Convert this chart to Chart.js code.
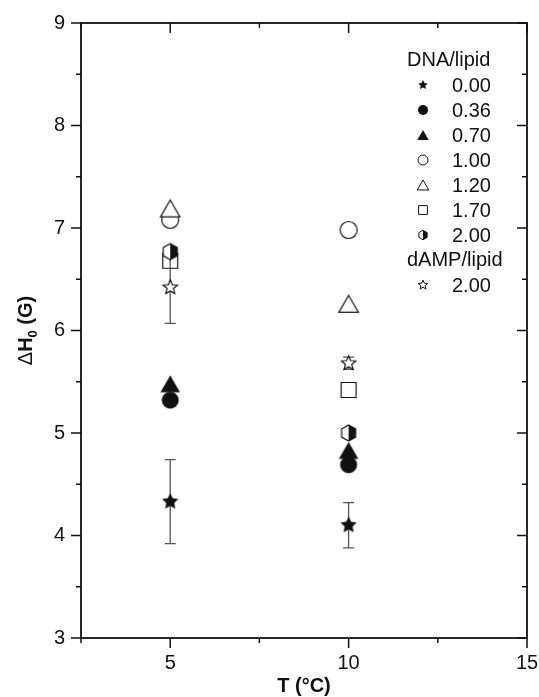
<!DOCTYPE html>
<html>
<head>
<meta charset="utf-8">
<script src="https://cdn.jsdelivr.net/npm/chart.js@4.4.1/dist/chart.umd.min.js"></script>
<style>
  html, body { margin: 0; padding: 0; background: #fff; }
  #wrap { width: 539px; height: 697px; position: relative; }
</style>
</head>
<body>
<div id="wrap"><canvas id="chart"></canvas></div>
<script>
// ── Data ─────────────────────────────────────────────────────────
const temps = [5, 10];
const ratioLabels = ['0.00', '0.36', '0.70', '1.00', '1.20', '1.70', '2.00', '2.00'];
const groupLabels = ['DNA/lipid', 'dAMP/lipid'];

const dH_000 = [4.33, 4.10];
const dH_036 = [5.32, 4.69];
const dH_070 = [5.48, 4.83];
const dH_100 = [7.08, 6.98];
const dH_120 = [7.19, 6.26];
const dH_170 = [6.68, 5.42];
const dH_200 = [6.77, 5.00];
const dH_dAMP200 = [6.42, 5.68];

const err_000 = [0.41, 0.22];
const err_dAMP200 = [0.35, 0.06];

const xTicks = [5, 10, 15];
const yTicks = [3, 4, 5, 6, 7, 8, 9];

// ── Styles ───────────────────────────────────────────────────────
const FONT = '"Liberation Sans", Arial, Helvetica, sans-serif';
const INK = '#111';
const series = [
  { vals: dH_000, kind: 'starFilled', size: 17, err: err_000, order: 8 },
  { vals: dH_036, kind: 'circleFilled', size: 17, order: 7 },
  { vals: dH_070, kind: 'triangleFilled', size: 17, order: 6 },
  { vals: dH_100, kind: 'circleOpen', size: 17, order: 5 },
  { vals: dH_120, kind: 'triangleOpen', size: 17, order: 2 },
  { vals: dH_170, kind: 'squareOpen', size: 17, order: 3 },
  { vals: dH_200, kind: 'hexHalf', size: 17, order: 1 },
  { vals: dH_dAMP200, kind: 'starOpen', size: 15, err: err_dAMP200, order: 4 },
];

function drawMarker(ctx, kind, cx, cy, s, lw) {
  ctx.save();
  ctx.lineWidth = lw;
  ctx.strokeStyle = INK;
  ctx.fillStyle = INK;
  ctx.lineJoin = 'miter';
  const filled = kind.endsWith('Filled');
  ctx.beginPath();
  if (kind.startsWith('circle')) {
    ctx.arc(cx, cy, s / 2, 0, Math.PI * 2);
  } else if (kind.startsWith('triangle')) {
    const w = s * 1.15, h = w * 0.866;
    ctx.moveTo(cx, cy - h / 2);
    ctx.lineTo(cx + w / 2, cy + h / 2);
    ctx.lineTo(cx - w / 2, cy + h / 2);
    ctx.closePath();
  } else if (kind.startsWith('square')) {
    const a = s * 0.88;
    ctx.rect(cx - a / 2, cy - a / 2, a, a);
    ctx.stroke();
    ctx.restore();
    return;
  } else if (kind.startsWith('star')) {
    const inner = filled ? 0.5 : 0.45;
    for (let k = 0; k < 10; k++) {
      const r = k % 2 ? s / 2 * inner : s / 2;
      const ang = -Math.PI / 2 + k * Math.PI / 5;
      const px = cx + r * Math.cos(ang), py = cy + r * Math.sin(ang);
      k ? ctx.lineTo(px, py) : ctx.moveTo(px, py);
    }
    ctx.closePath();
  } else if (kind === 'hexHalf') {
    const r = s / 2 * 0.95;
    for (let k = 0; k < 6; k++) {
      const ang = -Math.PI / 2 + k * Math.PI / 3;
      const px = cx + r * Math.cos(ang), py = cy + r * Math.sin(ang);
      k ? ctx.lineTo(px, py) : ctx.moveTo(px, py);
    }
    ctx.closePath();
    ctx.fillStyle = '#fff';
    ctx.fill();
    ctx.stroke();
    ctx.beginPath();
    for (let k = 0; k < 4; k++) {
      const ang = -Math.PI / 2 + k * Math.PI / 3;
      const px = cx + r * Math.cos(ang), py = cy + r * Math.sin(ang);
      k ? ctx.lineTo(px, py) : ctx.moveTo(px, py);
    }
    ctx.closePath();
    ctx.fillStyle = INK;
    ctx.fill();
    ctx.restore();
    return;
  }
  if (filled) {
    ctx.fill();
  } else {
    ctx.fillStyle = '#fff';
    ctx.fill();
    ctx.stroke();
  }
  ctx.restore();
}

function makeMarker(kind, s) {
  const c = document.createElement('canvas');
  const size = Math.ceil(s * 1.4) + 4;
  c.width = size; c.height = size;
  drawMarker(c.getContext('2d'), kind, size / 2, size / 2, s, 1.2);
  return c;
}

// ── Plugins ──────────────────────────────────────────────────────
const errorBars = {
  id: 'errorBars',
  beforeDatasetsDraw(chart) {
    const { ctx, scales: { x, y } } = chart;
    ctx.save();
    ctx.strokeStyle = '#555';
    ctx.lineWidth = 1.3;
    series.forEach(s => {
      if (!s.err) return;
      temps.forEach((t, i) => {
        const px = x.getPixelForValue(t);
        const top = y.getPixelForValue(s.vals[i] + s.err[i]);
        const bot = y.getPixelForValue(s.vals[i] - s.err[i]);
        ctx.beginPath();
        ctx.moveTo(px, top); ctx.lineTo(px, bot);
        ctx.moveTo(px - 5.5, top); ctx.lineTo(px + 5.5, top);
        ctx.moveTo(px - 5.5, bot); ctx.lineTo(px + 5.5, bot);
        ctx.stroke();
      });
    });
    ctx.restore();
  }
};

const frame = {
  id: 'frame',
  afterDraw(chart) {
    const { ctx, chartArea: a, scales: { x, y } } = chart;
    ctx.save();
    ctx.strokeStyle = INK;
    ctx.lineWidth = 1.8;
    ctx.strokeRect(a.left, a.top, a.right - a.left, a.bottom - a.top);
    ctx.lineWidth = 1.5;
    ctx.beginPath();
    for (let v = y.min; v <= y.max + 1e-9; v += 0.5) {
      const py = y.getPixelForValue(v);
      const len = Number.isInteger(v) ? 10 : 5;
      ctx.moveTo(a.left - len, py); ctx.lineTo(a.left, py);
      ctx.moveTo(a.right, py); ctx.lineTo(a.right - len, py);
    }
    for (let v = x.min; v <= x.max + 1e-9; v += 2.5) {
      const px = x.getPixelForValue(v);
      const len = v % 5 === 0 ? 10 : 5;
      ctx.moveTo(px, a.bottom); ctx.lineTo(px, a.bottom + len);
      ctx.moveTo(px, a.top); ctx.lineTo(px, a.top + len);
    }
    ctx.stroke();

    // axis titles
    ctx.fillStyle = INK;
    ctx.textBaseline = 'alphabetic';
    ctx.textAlign = 'center';
    ctx.font = 'bold 20px ' + FONT;
    ctx.fillText('T (°C)', (a.left + a.right) / 2, 692);

    const parts = [
      ['Δ', '20px ' + FONT, 0],
      ['H', 'bold 20px ' + FONT, 0],
      ['0', 'bold 13px ' + FONT, 5],
      [' (G)', 'bold 20px ' + FONT, 0],
    ];
    ctx.translate(32, (a.top + a.bottom) / 2);
    ctx.rotate(-Math.PI / 2);
    ctx.textAlign = 'left';
    let total = 0;
    parts.forEach(p => { ctx.font = p[1]; total += ctx.measureText(p[0]).width; });
    let cx = -total / 2;
    parts.forEach(p => {
      ctx.font = p[1];
      ctx.fillText(p[0], cx, p[2]);
      cx += ctx.measureText(p[0]).width;
    });
    ctx.restore();
  }
};

const legendBox = {
  id: 'legendBox',
  afterDraw(chart) {
    const { ctx } = chart;
    ctx.save();
    ctx.fillStyle = INK;
    ctx.font = '20px ' + FONT;
    ctx.textBaseline = 'middle';
    ctx.textAlign = 'left';
    const rows = [];
    rows.push({ head: groupLabels[0] });
    for (let i = 0; i < 7; i++) rows.push({ i });
    rows.push({ head: groupLabels[1] });
    rows.push({ i: 7 });
    rows.forEach((r, k) => {
      const yy = 60 + k * 25;
      if (r.head) {
        ctx.fillText(r.head, 407, yy);
      } else {
        drawMarker(ctx, series[r.i].kind, 423, yy, 10, 1);
        ctx.fillText(ratioLabels[r.i], 452, yy + 1);
      }
    });
    ctx.restore();
  }
};

// ── Chart ────────────────────────────────────────────────────────
new Chart(document.getElementById('chart'), {
  type: 'scatter',
  data: {
    datasets: series.map((s, i) => ({
      label: ratioLabels[i],
      data: temps.map((t, j) => ({ x: t, y: s.vals[j] })),
      pointStyle: makeMarker(s.kind, s.size),
      order: s.order,
      showLine: false,
    }))
  },
  options: {
    responsive: true,
    maintainAspectRatio: false,
    animation: false,
    events: [],
    layout: { padding: { left: 0, top: 23, right: 12, bottom: 0 } },
    plugins: { legend: { display: false }, tooltip: { enabled: false } },
    scales: {
      x: {
        type: 'linear', min: 2.5, max: 15,
        grid: { display: false, drawTicks: false },
        border: { display: false },
        afterBuildTicks: sc => { sc.ticks = xTicks.map(v => ({ value: v })); },
        afterFit: sc => { sc.height = 59; sc.paddingLeft = 0; sc.paddingRight = 0; },
        ticks: { color: INK, font: { size: 20, family: FONT }, padding: 13, maxRotation: 0 }
      },
      y: {
        type: 'linear', min: 3, max: 9,
        grid: { display: false, drawTicks: false },
        border: { display: false },
        afterBuildTicks: sc => { sc.ticks = yTicks.map(v => ({ value: v })); },
        afterFit: sc => { sc.width = 81; sc.paddingTop = 0; sc.paddingBottom = 0; },
        ticks: { color: INK, font: { size: 20, family: FONT }, padding: 16 }
      }
    }
  },
  plugins: [errorBars, frame, legendBox]
});
</script>
</body>
</html>
